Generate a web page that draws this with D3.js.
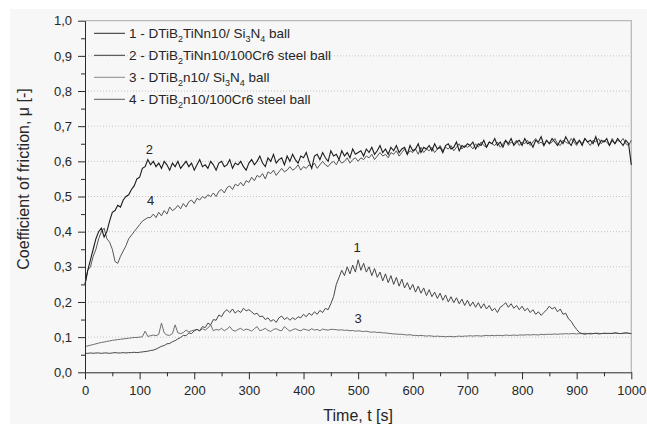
<!DOCTYPE html>
<html lang="en">
<head>
<meta charset="utf-8">
<title>Coefficient of friction vs time</title>
<script src="https://cdn.jsdelivr.net/npm/d3@7"></script>
<style>
  body { margin: 0; background: #fff; }
  svg { display: block; font-family: "Liberation Sans", Arial, sans-serif; }
</style>
</head>
<body>
<script>
// one reading every 5 s, 0..1000 s
var time = d3.range(0, 1001, 5);

// 1 - DTiB2TiNn10 / Si3N4 ball
var mu1 = [
  .054,.054,.055,.054,.055,.055,.054,.055,.055,.054,.055,.056,.055,.055,.056,.055,.056,.056,.057,.056,.057,
  .058,.059,.06,.062,.063,.066,.07,.074,.076,.081,.082,.087,.09,.095,.099,.105,.104,.112,.11,.118,
  .122,.118,.13,.127,.14,.135,.15,.148,.163,.158,.172,.178,.17,.18,.168,.176,.17,.182,.175,.178,
  .172,.165,.168,.158,.16,.15,.155,.145,.15,.142,.155,.16,.15,.156,.148,.155,.15,.158,.155,.165,
  .158,.168,.162,.172,.165,.176,.17,.182,.178,.195,
  .215,.25,.27,.29,.275,.30,.28,.305,.285,.32,.29,.31,.285,.30,.275,.295,.27,.285,.26,.28,
  .255,.275,.25,.27,.245,.265,.24,.255,.235,.25,.228,.245,.225,.24,.218,.235,.215,.228,.21,.225,
  .205,.22,.20,.215,.198,.212,.195,.208,.19,.205,
  .188,.20,.185,.198,.182,.195,.18,.19,.175,.182,.17,.185,.19,.198,.185,.195,.182,.19,.178,.188,
  .175,.182,.17,.178,.165,.172,.162,.17,.178,.188,.18,.185,.172,.18,.165,.168,.152,.145,.132,.122,
  .113,.11,.108,.11,.109,.11,.111,.109,.11,.111,.11,.111,.11,.112,.111,.11,.111,.112,.111,.11
];

// 2 - DTiB2TiNn10 / 100Cr6 steel ball
var mu2 = [
  .25,.29,.32,.35,.38,.40,.41,.385,.40,.43,.455,.46,.475,.47,.49,.50,.505,.52,.53,.55,.555,.58,.585,.605,.59,
  .60,.585,.595,.58,.60,.59,.575,.595,.585,.60,.58,.59,.60,.585,.595,.575,.59,.605,.585,.59,.58,.60,.59,.575,.595,
  .60,.585,.59,.605,.58,.595,.59,.60,.585,.575,.595,
  .605,.59,.60,.615,.595,.585,.61,.60,.62,.595,.605,.61,.59,.615,.60,.62,.605,.595,.615,.61,
  .625,.60,.58,.615,.62,.605,.625,.61,.60,.63,.615,.62,.605,.63,.615,.625,.61,.635,.62,.625,
  .63,.615,.635,.625,.64,.62,.63,.645,.625,.635,.62,.64,.63,.645,.625,.635,.64,.62,.645,.63,
  .635,.65,.625,.64,.635,.645,.63,.65,.635,.64,.625,.645,.65,.635,.64,.655,.63,.645,.64,.65,
  .645,.655,.635,.65,.645,.66,.64,.655,.65,.665,.645,.655,.64,.66,.65,.665,.645,.655,.66,.645,
  .665,.65,.655,.64,.66,.655,.67,.645,.66,.65,.665,.655,.645,.66,.65,.67,.655,.645,.665,.65,
  .66,.645,.665,.655,.66,.65,.67,.645,.66,.655,.665,.645,.66,.65,.665,.655,.645,.66,.65,
  .59
];

// 3 - DTiB2n10 / Si3N4 ball
var mu3 = [
  .073,.075,.077,.079,.081,.083,.085,.086,.088,.089,.091,.092,.093,.094,.095,.096,.097,.098,.099,.099,
  .10,.101,.117,.102,.104,.106,.104,.108,.14,.112,.106,.105,.11,.135,.112,.11,.113,.12,.115,.118,.12,
  .122,.118,.124,.12,.126,.135,.118,.122,.12,.125,.118,.123,.13,.12,.117,.122,.125,.119,.123,.121,
  .117,.124,.13,.118,.121,.125,.119,.116,.122,.124,.12,.118,.13,.123,.117,.121,.124,.12,.118,.123,
  .121,.119,.124,.12,.122,.118,.123,.121,.12,.122,
  .122,.121,.12,.121,.119,.12,.118,.119,.117,.118,.117,.116,.117,.115,.114,.115,.113,.114,.112,.112,
  .111,.11,.109,.109,.108,.108,.107,.106,.107,.105,.105,.104,.105,.104,.103,.104,.103,.102,.103,.102,
  .102,.101,.102,.102,.101,.102,.103,.102,.103,.103,.104,.103,.104,.104,.103,.104,.105,.104,.105,.104,
  .105,.105,.104,.106,.105,.105,.106,.105,.106,.106,.106,.107,.106,.107,.107,.106,.108,.107,.108,.108,
  .108,.109,.108,.109,.109,.11,.109,.11,.11,.109,.11,.11,.111,.11,.111,.11,.111,.111,.11,.111,
  .111,.11,.111,.112,.111,.11,.111,.112,.111,.11
];

// 4 - DTiB2n10 / 100Cr6 steel ball
var mu4 = [
  .25,.29,.30,.33,.35,.38,.40,.41,.38,.37,.35,.315,.31,.33,.345,.36,.38,.39,.40,.41,.42,.43,.435,.44,.44,
  .45,.44,.455,.445,.46,.45,.47,.46,.465,.475,.465,.48,.47,.485,.49,.48,.495,.49,.50,.495,
  .505,.50,.51,.50,.515,.52,.51,.525,.53,.52,.535,.53,.54,.53,.545,.54,
  .555,.545,.56,.555,.565,.55,.57,.565,.575,.56,.57,.58,.57,.575,.585,.575,.58,.59,.575,.585,
  .58,.59,.585,.595,.58,.59,.60,.59,.585,.595,.60,.59,.605,.595,.60,.61,.595,.605,.61,.60,
  .61,.605,.615,.61,.62,.605,.615,.625,.615,.62,.61,.625,.62,.63,.615,.625,.635,.62,.63,.625,
  .635,.62,.64,.625,.635,.63,.64,.625,.635,.645,.63,.64,.635,.645,.63,.64,.65,.635,.645,.64,
  .645,.635,.65,.64,.655,.645,.64,.655,.65,.645,.655,.64,.65,.66,.645,.655,.65,.66,.645,.655,
  .65,.66,.645,.655,.665,.65,.655,.645,.66,.65,.655,.665,.65,.645,.66,.655,.65,.665,.655,.645,
  .66,.65,.665,.655,.645,.66,.655,.665,.65,.66,.655,.645,.665,.65,.66,.655,.665,.65,.645,.66,.655
];

var xTicks = [0, 100, 200, 300, 400, 500, 600, 700, 800, 900, 1000];
var xMinor = [50, 150, 250, 350, 450, 550, 650, 750, 850, 950];
var yTicks = [0, 0.1, 0.2, 0.3, 0.4, 0.5, 0.6, 0.7, 0.8, 0.9, 1.0];
var yMinor = [0.05, 0.15, 0.25, 0.35, 0.45, 0.55, 0.65, 0.75, 0.85, 0.95];

// "_x" = subscript character
var legendNames = [
  "1 - DTiB_2TiNn10/ Si_3N_4 ball",
  "2 - DTiB_2TiNn10/100Cr6 steel ball",
  "3 - DTiB_2n10/ Si_3N_4 ball",
  "4 - DTiB_2n10/100Cr6 steel ball"
];
var seriesColors = ["#474747", "#1c1c1c", "#6e6e6e", "#565656"];
var legendColors = ["#2a2a2a", "#3a3a3a", "#8a8a8a", "#5a5a5a"];

// curve numbers written next to the curves: [label, time, mu]
var curveLabels = [["1", 498, 0.356], ["2", 118, 0.634], ["3", 500, 0.154], ["4", 120, 0.49]];

var w = 647, h = 424;
var x = d3.scaleLinear().domain([0, 1000]).range([85, 631.3]);
var y = d3.scaleLinear().domain([0, 1]).range([372.3, 20.7]);

var svg = d3.select("body").append("svg").attr("width", w).attr("height", h);

svg.append("rect")
  .attr("x", 10).attr("y", 9).attr("width", w - 10).attr("height", h - 9)
  .attr("fill", "#f7f7f7");

// dotted grid
svg.selectAll(".grid")
  .data(yTicks.filter(function(d) { return d > 0 && d < 1; }))
  .enter().append("line")
  .attr("x1", x(0)).attr("x2", x(1000))
  .attr("y1", function(d) { return y(d); })
  .attr("y2", function(d) { return y(d); })
  .attr("stroke", "#c4c4c4")
  .attr("stroke-width", 1)
  .attr("stroke-dasharray", "1,2");

// top / right frame
svg.append("path")
  .attr("d", "M" + x(0) + "," + y(1) + "H" + x(1000) + "V" + y(0))
  .attr("fill", "none")
  .attr("stroke", "#b8b8b8")
  .attr("stroke-width", 1.3);

// curves
var line = d3.line()
  .x(function(d, i) { return x(time[i]); })
  .y(function(d) { return y(d); });

var series = [mu3, mu1, mu4, mu2];
var order = [2, 0, 3, 1];
series.forEach(function(s, k) {
  svg.append("path")
    .datum(s)
    .attr("d", line)
    .attr("fill", "none")
    .attr("stroke", seriesColors[order[k]])
    .attr("stroke-width", order[k] == 1 ? 1.1 : 1);
});

// axes
var fmt = function(d) { return d3.format(".1f")(d).replace(".", ","); };

svg.append("g")
  .attr("transform", "translate(0," + y(0) + ")")
  .call(d3.axisBottom(x).tickValues(xTicks).tickFormat(d3.format("d"))
    .tickSize(7).tickPadding(6).tickSizeOuter(0));
svg.append("g")
  .attr("transform", "translate(0," + y(0) + ")")
  .call(d3.axisBottom(x).tickValues(xMinor).tickSize(4).tickFormat(""))
  .select(".domain").remove();

svg.append("g")
  .attr("transform", "translate(" + x(0) + ",0)")
  .call(d3.axisLeft(y).tickValues(yTicks).tickFormat(fmt).tickSize(7).tickPadding(6).tickSizeOuter(0));
svg.append("g")
  .attr("transform", "translate(" + x(0) + ",0)")
  .call(d3.axisLeft(y).tickValues(yMinor).tickSize(4).tickFormat(""))
  .select(".domain").remove();

svg.selectAll(".domain").attr("stroke", "#2a2a2a");
svg.selectAll(".tick line").attr("stroke", "#2a2a2a");
svg.selectAll(".tick text")
  .attr("font-family", "Liberation Sans, Arial, sans-serif")
  .attr("font-size", "13px")
  .attr("fill", "#262626");

// axis titles
svg.append("text")
  .attr("transform", "translate(28.5,179) rotate(-90)")
  .attr("text-anchor", "middle")
  .attr("font-size", "16px")
  .attr("fill", "#262626")
  .text("Coefficient of friction, \u03bc [-]");

svg.append("text")
  .attr("x", (x(0) + x(1000)) / 2)
  .attr("y", 421)
  .attr("text-anchor", "middle")
  .attr("font-size", "16px")
  .attr("fill", "#262626")
  .text("Time, t [s]");

// legend
legendNames.forEach(function(name, i) {
  var cy = 33.3 + i * 22;
  svg.append("line")
    .attr("x1", 94).attr("x2", 125)
    .attr("y1", cy).attr("y2", cy)
    .attr("stroke", legendColors[i])
    .attr("stroke-width", 1);
  var t = svg.append("text")
    .attr("x", 129).attr("y", cy + 4.8)
    .attr("font-size", "13.5px")
    .attr("fill", "#262626");
  var parts = name.split("_");
  parts.forEach(function(p, j) {
    if (j == 0) {
      t.append("tspan").text(p);
    } else {
      t.append("tspan").attr("dy", 4).attr("font-size", "9px").text(p.charAt(0));
      t.append("tspan").attr("dy", -4).text(p.slice(1));
    }
  });
});

// curve numbers
svg.selectAll(".clabel")
  .data(curveLabels)
  .enter().append("text")
  .attr("x", function(d) { return x(d[1]); })
  .attr("y", function(d) { return y(d[2]); })
  .attr("dy", "0.35em")
  .attr("text-anchor", "middle")
  .attr("font-size", "13px")
  .attr("fill", "#262626")
  .text(function(d) { return d[0]; });
</script>
</body>
</html>
